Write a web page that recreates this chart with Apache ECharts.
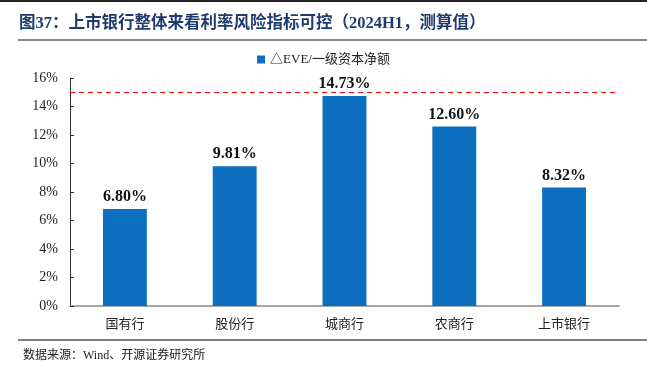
<!DOCTYPE html>
<html><head><meta charset="utf-8">
<script src="https://cdn.jsdelivr.net/npm/echarts@6/dist/echarts.min.js"></script>
<style>html,body{margin:0;padding:0;background:#fff}#c{width:647px;height:371px}</style>
</head><body><div id="c"></div>
<script>
const categories = ['国有行','股份行','城商行','农商行','上市银行'];
const values = [6.80, 9.81, 14.73, 12.60, 8.32];
const yTicks = [0,2,4,6,8,10,12,14,16];
const threshold = 15;
const seriesName = '△EVE/一级资本净额';
const titleText = '图37：上市银行整体来看利率风险指标可控（2024H1，测算值）';
const sourceText = '数据来源：Wind、开源证券研究所';
const FONT = '"Liberation Serif","Noto Sans CJK SC",serif';

const chart = echarts.init(document.getElementById('c'));
chart.setOption({
  animation:false,
  title:[{text:titleText,left:14,top:10,textStyle:{fontFamily:FONT,fontSize:16.5,fontWeight:'bold',color:'#1d3b6e'}},
         {text:sourceText,left:18,top:345,textStyle:{fontFamily:FONT,fontSize:12,fontWeight:'normal',color:'#222'}}],
  graphic:[
    {type:'line',shape:{x1:0,y1:1,x2:647,y2:1},style:{stroke:'#222',lineWidth:2}},
    {type:'line',shape:{x1:18,y1:40,x2:647,y2:40},style:{stroke:'#888',lineWidth:2}},
    {type:'line',shape:{x1:18,y1:340,x2:647,y2:340},style:{stroke:'#555',lineWidth:1.5}}
  ],
  legend:{top:48,left:'center',itemWidth:8,itemHeight:8,icon:'rect',
    textStyle:{fontFamily:FONT,fontSize:13,color:'#222'},data:[seriesName]},
  grid:{left:70,right:28,top:78,bottom:65},
  xAxis:{type:'category',data:categories,
    axisLine:{lineStyle:{color:'#888',width:1.5}},axisTick:{show:false},
    axisLabel:{fontFamily:FONT,fontSize:13,color:'#222',margin:12}},
  yAxis:{type:'value',min:0,max:16,interval:2,
    axisLine:{show:true,lineStyle:{color:'#333'}},axisTick:{show:true,inside:true,length:4,lineStyle:{color:'#333'}},
    splitLine:{show:false},
    axisLabel:{fontFamily:FONT,fontSize:14,color:'#222',margin:12,formatter:v=>v+'%'}},
  series:[{name:seriesName,type:'bar',data:values,barWidth:'40%',
    itemStyle:{color:'#0c6fc0'},
    label:{show:true,position:'top',distance:4,fontFamily:FONT,fontSize:16,fontWeight:'bold',color:'#111',formatter:p=>p.value.toFixed(2)+'%'},
    markLine:{symbol:'none',silent:true,label:{show:false},
      lineStyle:{color:'#ff0000',type:[5,4],width:1.2},data:[{yAxis:threshold}]}}]
});
</script></body></html>
